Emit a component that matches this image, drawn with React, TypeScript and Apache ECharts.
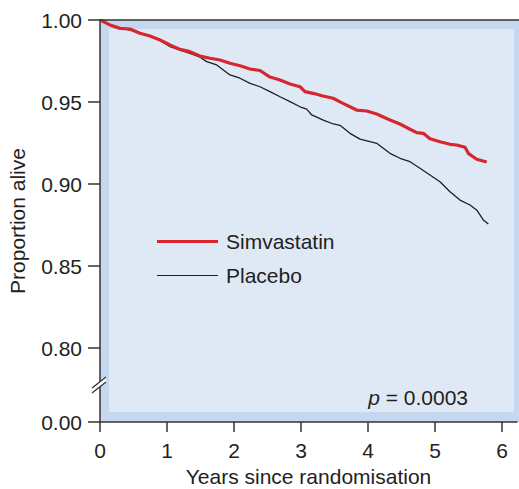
import React, { useEffect, useRef } from "react";
import * as echarts from "echarts";

const simYears = [0, 0.149, 0.299, 0.448, 0.597, 0.746, 0.896, 1.045, 1.194, 1.343, 1.493, 1.642, 1.791, 1.94, 2.09, 2.239, 2.388, 2.537, 2.687, 2.836, 2.985, 3.06, 3.179, 3.328, 3.478, 3.627, 3.831, 3.981, 4.13, 4.328, 4.478, 4.627, 4.727, 4.825, 4.925, 5.075, 5.224, 5.324, 5.448, 5.497, 5.622, 5.772];
const simValues = [1.0, 0.997, 0.9949, 0.9945, 0.9919, 0.9902, 0.9878, 0.9848, 0.9821, 0.9807, 0.978, 0.9767, 0.9756, 0.9736, 0.9721, 0.9701, 0.9692, 0.9652, 0.9634, 0.961, 0.9593, 0.9563, 0.9553, 0.9537, 0.9523, 0.9492, 0.9451, 0.9445, 0.9427, 0.939, 0.9366, 0.9334, 0.9313, 0.9309, 0.9276, 0.9258, 0.9242, 0.9238, 0.9224, 0.9187, 0.9151, 0.9134];

const plaYears = [0, 0.149, 0.299, 0.448, 0.597, 0.746, 0.896, 1.045, 1.194, 1.343, 1.493, 1.593, 1.742, 1.94, 2.09, 2.239, 2.388, 2.537, 2.687, 2.836, 2.985, 3.085, 3.16, 3.333, 3.482, 3.582, 3.731, 3.881, 4.03, 4.13, 4.328, 4.478, 4.627, 4.776, 4.925, 5.075, 5.224, 5.373, 5.522, 5.622, 5.721, 5.796];
const plaValues = [1.0, 0.997, 0.9951, 0.9939, 0.9921, 0.9902, 0.9875, 0.9837, 0.9817, 0.9797, 0.9773, 0.9746, 0.9726, 0.9665, 0.9645, 0.9614, 0.9593, 0.9563, 0.9532, 0.9502, 0.9471, 0.9457, 0.9421, 0.939, 0.9366, 0.9358, 0.9309, 0.9274, 0.9258, 0.9248, 0.9187, 0.9157, 0.9136, 0.9096, 0.9055, 0.9014, 0.8953, 0.8902, 0.8872, 0.8842, 0.8781, 0.8756];

const xTicks = [0, 1, 2, 3, 4, 5, 6];
const yBreakBase = 0.7549; // position where the "0.00" label sits after the axis break
const yTicks = [yBreakBase, 0.8, 0.85, 0.9, 0.95, 1.0];
const seriesNames = ["Simvastatin", "Placebo"];
const pValueText = "{i|p} = 0.0003";

const FONT = "'Liberation Sans', Arial, Helvetica, sans-serif";
const TEXT = "#231f20";
const FS = 21;
const RED = "#d7262e";
const BLACK = "#1e1e1e";

export default function App() {
  const ref = useRef<HTMLDivElement>(null);
  useEffect(() => {
    if (!ref.current) return;
    const chart = echarts.init(ref.current, null, { renderer: "svg" });
    const sim = simYears.map((x, i) => [x, simValues[i]]);
    const pla = plaYears.map((x, i) => [x, plaValues[i]]);
    chart.setOption({
      animation: false,
      textStyle: { fontFamily: FONT },
      grid: { left: 100, top: 20, width: 417, height: 402, containLabel: false, outerBoundsMode: "none" },
      legend: {
        orient: "vertical",
        left: 157,
        top: 231,
        padding: 0,
        itemWidth: 61,
        itemHeight: 22,
        itemGap: 13,
        textStyle: { fontSize: FS, color: TEXT, fontFamily: FONT, padding: [0, 0, 0, 3] },
        data: [
          { name: seriesNames[0], icon: "path://M0,0H61V3H0Z" },
          { name: seriesNames[1], icon: "path://M0,0H61V1.2H0Z" },
        ],
      },
      xAxis: {
        type: "value",
        min: 0,
        max: 6.224,
        interval: 1,
        name: "Years since randomisation",
        nameLocation: "middle",
        nameGap: 42,
        nameTextStyle: { fontSize: FS, color: TEXT, fontFamily: FONT },
        axisLine: { show: true, onZero: false, lineStyle: { color: "#333", width: 1.5 } },
        axisTick: { show: true, length: 10, customValues: xTicks, lineStyle: { color: "#333", width: 1.5 } },
        axisLabel: { fontSize: FS, color: TEXT, margin: 18, customValues: xTicks, formatter: (v: number) => String(Math.round(v)) },
        splitLine: { show: false },
      },
      yAxis: {
        type: "value",
        min: yBreakBase,
        max: 1.0,
        name: "Proportion alive",
        nameLocation: "middle",
        nameGap: 72,
        nameTextStyle: { fontSize: FS, color: TEXT, fontFamily: FONT },
        axisLine: { show: true, onZero: false, lineStyle: { color: "#333", width: 1.5 } },
        axisTick: { show: true, length: 12, customValues: yTicks, lineStyle: { color: "#333", width: 1.5 } },
        axisLabel: {
          fontSize: FS,
          color: TEXT,
          margin: 18,
          customValues: yTicks,
          formatter: (v: number) => (v < 0.79 ? "0.00" : v.toFixed(2)),
        },
        splitLine: { show: false },
      },
      graphic: [
        { type: "rect", z: -10, silent: true, shape: { x: 100, y: 20, width: 419, height: 402 }, style: { fill: "#c6d8ee" } },
        { type: "rect", z: -9, silent: true, shape: { x: 109, y: 29, width: 405, height: 383 }, style: { fill: "#dfe9f6" } },
        { type: "line", z: 10, shape: { x1: 100, y1: 20, x2: 519, y2: 20 }, style: { stroke: "#333", lineWidth: 1.5 } },
        { type: "polygon", z: 10, shape: { points: [[92, 388], [106, 377], [106, 382], [92, 393]] }, style: { fill: "#ffffff" } },
        { type: "line", z: 11, shape: { x1: 92, y1: 388, x2: 106, y2: 377 }, style: { stroke: "#333", lineWidth: 1.3 } },
        { type: "line", z: 11, shape: { x1: 92, y1: 393, x2: 106, y2: 382 }, style: { stroke: "#333", lineWidth: 1.3 } },
        {
          type: "text",
          z: 10,
          x: 468,
          y: 397,
          style: {
            text: pValueText,
            font: `${FS}px ${FONT}`,
            fill: TEXT,
            align: "right",
            verticalAlign: "middle",
            rich: { i: { fontStyle: "italic", fontSize: FS, fontFamily: FONT, fill: TEXT } },
          },
        },
      ],
      series: [
        {
          name: seriesNames[0],
          type: "line",
          data: sim,
          symbol: "none",
          z: 4,
          lineStyle: { color: RED, width: 3.2 },
          itemStyle: { color: RED },
        },
        {
          name: seriesNames[1],
          type: "line",
          data: pla,
          symbol: "none",
          z: 3,
          lineStyle: { color: BLACK, width: 1.3 },
          itemStyle: { color: BLACK },
        },
      ],
    });
    return () => chart.dispose();
  }, []);
  return <div ref={ref} style={{ width: 519, height: 489, position: "absolute", left: 0, top: 0 }} />;
}
